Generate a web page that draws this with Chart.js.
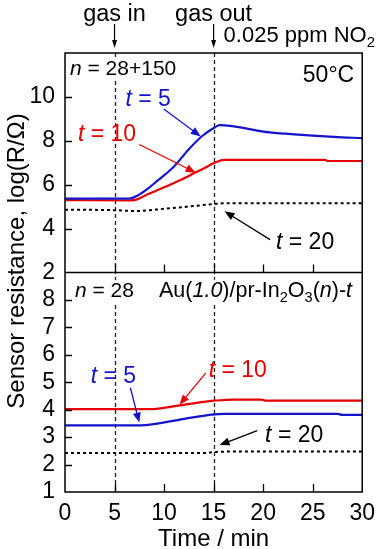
<!DOCTYPE html>
<html lang="en">
<head>
<meta charset="UTF-8">
<title>Sensor resistance vs time</title>
<script src="https://cdn.jsdelivr.net/npm/chart.js"></script>
<style>
  body { margin: 0; background: #fff; }
  canvas { display: block; }
</style>
</head>
<body>
<canvas id="resistChart" width="383" height="549"></canvas>
<script>
// time axis, min
const timeMin = 0, timeMax = 30, timeStep = 5;
const gasInAt = 5, gasOutAt = 15;

// upper panel, n = 28+150
const upBlueTime  = [0, 6.5, 7.3, 8.3, 9.3, 10.9, 12.5, 13.85, 15.15, 15.6, 20.7, 27.2, 30];
const upBlueVal   = [5.37, 5.37, 5.5, 5.8, 6.17, 6.78, 7.62, 8.22, 8.62, 8.71, 8.38, 8.18, 8.12];
const upRedTime   = [0, 6.5, 7.2, 8.3, 9.6, 11, 12.5, 13.85, 15.15, 16.1, 26.2, 26.6, 30];
const upRedVal    = [5.3, 5.28, 5.32, 5.55, 5.8, 6.08, 6.4, 6.7, 7.01, 7.13, 7.13, 7.08, 7.08];
const upBlackTime = [0, 5, 7, 10, 13, 15, 16, 30];
const upBlackVal  = [4.86, 4.84, 4.8, 4.9, 5.03, 5.12, 5.15, 5.16];

// lower panel, n = 28
const loRedTime   = [0, 8.6, 11.6, 14.8, 16, 17, 19.8, 20.2, 30];
const loRedVal    = [4.02, 4.02, 4.16, 4.32, 4.35, 4.37, 4.37, 4.33, 4.33];
const loBlueTime  = [0, 7.65, 11.6, 14.8, 16.1, 27.5, 28, 30];
const loBlueVal   = [3.43, 3.43, 3.64, 3.82, 3.85, 3.85, 3.81, 3.81];
const loBlackTime = [0, 14, 15.5, 30];
const loBlackVal  = [2.42, 2.42, 2.47, 2.48];

const upRange = [2, 12], upStep = 2;
const loRange = [1, 9], loStep = 1;

const FONT = '"Liberation Sans", Arial, sans-serif';
const BLUE = '#1414cc';
const RED = '#e60000';

const pts = (ts, vs) => ts.map((t, i) => ({ x: t, y: vs[i] }));

// labels and pointer arrows, placed in data units of each panel
const notes = [
  { axis: 'yTop', t: 6.1, v: 9.58, color: BLUE, parts: [{ s: 't', it: true }, { s: ' = 5' }] },
  { axis: 'yTop', t: 1.3, v: 7.98, color: RED, parts: [{ s: 't', it: true }, { s: ' = 10' }] },
  { axis: 'yTop', t: 21.3, v: 3.05, color: '#000', parts: [{ s: 't', it: true }, { s: ' = 20' }] },
  { axis: 'yBot', t: 2.6, v: 4.96, color: BLUE, parts: [{ s: 't', it: true }, { s: ' = 5' }] },
  { axis: 'yBot', t: 14.5, v: 5.18, color: RED, parts: [{ s: 't', it: true }, { s: ' = 10' }] },
  { axis: 'yBot', t: 20.2, v: 2.83, color: '#000', parts: [{ s: 't', it: true }, { s: ' = 20' }] }
];
const pointers = [
  { axis: 'yTop', from: [9.97, 9.45], to: [13.7, 8.2], color: BLUE },
  { axis: 'yTop', from: [7.5, 7.83], to: [13.2, 6.55], color: RED },
  { axis: 'yTop', from: [20.7, 3.5], to: [16.1, 4.79], color: '#000' },
  { axis: 'yBot', from: [6.6, 4.8], to: [7.5, 3.53], color: BLUE },
  { axis: 'yBot', from: [14.2, 5.33], to: [11.56, 4.18], color: RED },
  { axis: 'yBot', from: [19.4, 3.24], to: [15.6, 2.71], color: '#000' }
];

function setFont(ctx, size, italic) {
  ctx.font = (italic ? 'italic ' : '') + size + 'px ' + FONT;
}

function drawRich(ctx, parts, x, y, size, color, align, bg) {
  let w = 0;
  for (const p of parts) {
    setFont(ctx, p.sub ? size * 0.68 : size, p.it);
    w += ctx.measureText(p.s).width;
  }
  let cx = align === 'right' ? x - w : align === 'center' ? x - w / 2 : x;
  if (bg) {
    ctx.fillStyle = '#fff';
    ctx.fillRect(cx - 3, y - size * 0.78, w + 6, size * 1.05);
  }
  ctx.fillStyle = color;
  ctx.textAlign = 'left';
  ctx.textBaseline = 'alphabetic';
  for (const p of parts) {
    setFont(ctx, p.sub ? size * 0.68 : size, p.it);
    ctx.fillText(p.s, cx, p.sub ? y + size * 0.24 : y);
    cx += ctx.measureText(p.s).width;
  }
}

function arrow(ctx, x1, y1, x2, y2, color, head, half, lw) {
  const a = Math.atan2(y2 - y1, x2 - x1);
  const c = Math.cos(a), s = Math.sin(a);
  ctx.strokeStyle = color;
  ctx.fillStyle = color;
  ctx.lineWidth = lw;
  ctx.setLineDash([]);
  ctx.beginPath();
  ctx.moveTo(x1, y1);
  ctx.lineTo(x2 - c * head * 0.7, y2 - s * head * 0.7);
  ctx.stroke();
  ctx.beginPath();
  ctx.moveTo(x2, y2);
  ctx.lineTo(x2 - head * c + half * s, y2 - head * s - half * c);
  ctx.lineTo(x2 - head * c - half * s, y2 - head * s + half * c);
  ctx.closePath();
  ctx.fill();
}

const panelDecor = {
  id: 'panelDecor',
  beforeDatasetsDraw(chart) {
    const { ctx, chartArea: ca, scales } = chart;
    ctx.save();
    ctx.strokeStyle = '#222';
    ctx.lineWidth = 1.3;
    ctx.setLineDash([4, 3]);
    for (const t of [gasInAt, gasOutAt]) {
      const x = Math.round(scales.x.getPixelForValue(t)) + 0.5;
      ctx.beginPath();
      ctx.moveTo(x, ca.top);
      ctx.lineTo(x, ca.bottom);
      ctx.stroke();
    }
    ctx.restore();
  },
  afterDatasetsDraw(chart) {
    const { ctx, chartArea: ca, scales } = chart;
    const xs = scales.x, yTop = scales.yTop, yBot = scales.yBot;
    const divY = yTop.bottom;
    ctx.save();

    // panel headers with white boxes over the dashed lines
    drawRich(ctx, [{ s: 'n', it: true }, { s: ' = 28+150' }], ca.left + 5, yTop.top + 22, 21, '#000', 'left', true);
    drawRich(ctx, [{ s: '50°C' }], ca.right - 8, yTop.top + 29, 23, '#000', 'right', false);
    drawRich(ctx, [{ s: 'n', it: true }, { s: ' = 28' }], ca.left + 10, divY + 24, 21, '#000', 'left', true);
    drawRich(ctx, [
      { s: 'Au(' }, { s: '1.0', it: true }, { s: ')/pr-In' }, { s: '2', sub: true },
      { s: 'O' }, { s: '3', sub: true }, { s: '(' }, { s: 'n', it: true }, { s: ')-' }, { s: 't', it: true }
    ], ca.left + 94, divY + 24, 21.5, '#000', 'left', true);

    // series labels and pointers
    for (const n of notes) {
      const ys = scales[n.axis];
      drawRich(ctx, n.parts, xs.getPixelForValue(n.t), ys.getPixelForValue(n.v), 23, n.color, 'left', false);
    }
    for (const p of pointers) {
      const ys = scales[p.axis];
      arrow(ctx,
        xs.getPixelForValue(p.from[0]), ys.getPixelForValue(p.from[1]),
        xs.getPixelForValue(p.to[0]), ys.getPixelForValue(p.to[1]),
        p.color, 10, 4, 1.3);
    }

    // frame and divider
    ctx.setLineDash([]);
    ctx.strokeStyle = '#000';
    ctx.lineWidth = 1.5;
    ctx.strokeRect(ca.left, ca.top, ca.right - ca.left, ca.bottom - ca.top);
    ctx.beginPath();
    ctx.moveTo(ca.left, divY);
    ctx.lineTo(ca.right, divY);
    ctx.stroke();

    // inward tick marks
    ctx.lineWidth = 1.3;
    ctx.beginPath();
    for (const tk of xs.ticks) {
      if (tk.value <= timeMin || tk.value >= timeMax) continue;
      const x = Math.round(xs.getPixelForValue(tk.value)) + 0.5;
      ctx.moveTo(x, ca.bottom); ctx.lineTo(x, ca.bottom - 8);
      ctx.moveTo(x, divY); ctx.lineTo(x, divY - 8);
    }
    for (const ys of [yTop, yBot]) {
      for (const tk of ys.ticks) {
        if (tk.value <= ys.min || tk.value >= ys.max) continue;
        const y = Math.round(ys.getPixelForValue(tk.value)) + 0.5;
        ctx.moveTo(ca.left, y); ctx.lineTo(ca.left + 7, y);
      }
    }
    ctx.stroke();

    // gas in / gas out markers above the frame
    const xIn = xs.getPixelForValue(gasInAt), xOut = xs.getPixelForValue(gasOutAt);
    drawRich(ctx, [{ s: 'gas in' }], xIn, 21, 23.5, '#000', 'center', false);
    drawRich(ctx, [{ s: 'gas out' }], xOut, 21, 23.5, '#000', 'center', false);
    arrow(ctx, xIn, 24, xIn, ca.top - 5, '#000', 8, 2.5, 1.2);
    arrow(ctx, xOut, 24, xOut, ca.top - 5, '#000', 8, 2.5, 1.2);
    drawRich(ctx, [{ s: '0.025 ppm NO' }, { s: '2', sub: true }], xOut + 10, 42, 22, '#000', 'left', false);

    // axis titles
    setFont(ctx, 24, false);
    ctx.fillStyle = '#000';
    ctx.textAlign = 'center';
    ctx.textBaseline = 'alphabetic';
    ctx.fillText('Time / min', (ca.left + ca.right) / 2, 546);
    ctx.translate(24, 261);
    ctx.rotate(-Math.PI / 2);
    ctx.fillText('Sensor resistance, log(R/Ω)', 0, 0);
    ctx.restore();
  }
};

const lineStyle = (color, axis, dashed) => ({
  borderColor: color,
  borderWidth: dashed ? 2 : 2.2,
  borderDash: dashed ? [3, 3] : [],
  pointRadius: 0,
  fill: false,
  cubicInterpolationMode: 'monotone',
  yAxisID: axis
});

const tickFont = { family: FONT, size: 23 };

new Chart(document.getElementById('resistChart'), {
  type: 'line',
  data: {
    datasets: [
      { label: 'upper t = 5', data: pts(upBlueTime, upBlueVal), ...lineStyle(BLUE, 'yTop') },
      { label: 'upper t = 10', data: pts(upRedTime, upRedVal), ...lineStyle(RED, 'yTop') },
      { label: 'upper t = 20', data: pts(upBlackTime, upBlackVal), ...lineStyle('#000', 'yTop', true) },
      { label: 'lower t = 5', data: pts(loBlueTime, loBlueVal), ...lineStyle(BLUE, 'yBot') },
      { label: 'lower t = 10', data: pts(loRedTime, loRedVal), ...lineStyle(RED, 'yBot') },
      { label: 'lower t = 20', data: pts(loBlackTime, loBlackVal), ...lineStyle('#000', 'yBot', true) }
    ]
  },
  options: {
    responsive: false,
    animation: false,
    devicePixelRatio: 1,
    layout: { padding: { top: 53, right: 11, left: 0, bottom: 0 } },
    plugins: { legend: { display: false }, tooltip: { enabled: false } },
    scales: {
      x: {
        type: 'linear',
        min: timeMin, max: timeMax,
        grid: { display: false, drawTicks: false },
        border: { display: false },
        ticks: { stepSize: timeStep, font: tickFont, color: '#000', padding: 8, maxRotation: 0, autoSkip: false },
        afterFit: s => { s.height = 57; }
      },
      yBot: {
        type: 'linear',
        position: 'left',
        stack: 'panels',
        stackWeight: 1,
        min: loRange[0], max: loRange[1],
        grid: { display: false, drawTicks: false },
        border: { display: false },
        ticks: { stepSize: loStep, font: tickFont, color: '#000', padding: 10, autoSkip: false,
                 callback: v => (v === loRange[1] ? '' : v) },
        afterFit: s => { s.width = 65; }
      },
      yTop: {
        type: 'linear',
        position: 'left',
        stack: 'panels',
        stackWeight: 1,
        min: upRange[0], max: upRange[1],
        grid: { display: false, drawTicks: false },
        border: { display: false },
        ticks: { stepSize: upStep, font: tickFont, color: '#000', padding: 10, autoSkip: false,
                 callback: v => (v === upRange[1] ? '' : v) },
        afterFit: s => { s.width = 65; }
      }
    }
  },
  plugins: [panelDecor]
});
</script>
</body>
</html>
